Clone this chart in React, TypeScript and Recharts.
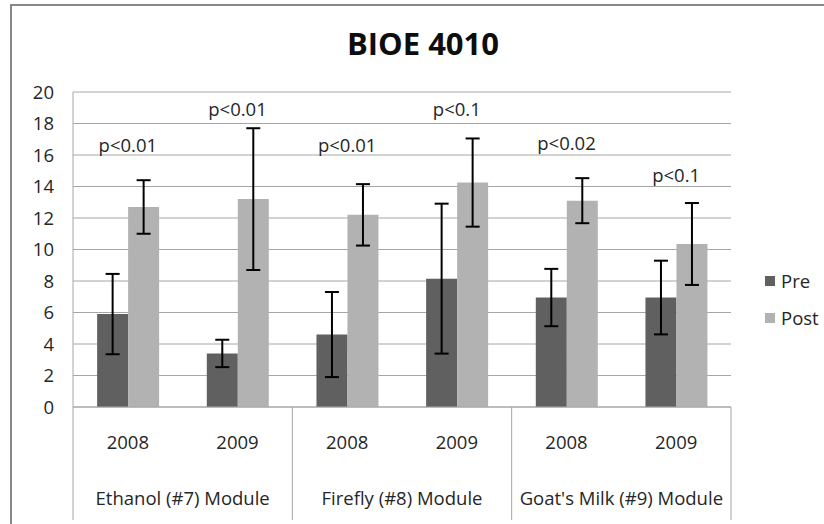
import React from 'react';
import { ComposedChart, Bar, Line, XAxis, YAxis, CartesianGrid, ErrorBar, LabelList, Legend } from 'recharts';

const years = ['2008', '2009', '2008', '2009', '2008', '2009'];
const modules = [
  'Ethanol (#7) Module',
  'Ethanol (#7) Module',
  'Firefly (#8) Module',
  'Firefly (#8) Module',
  "Goat's Milk (#9) Module",
  "Goat's Milk (#9) Module",
];
const preValues = [5.9, 3.4, 4.6, 8.15, 6.95, 6.95];
const preErrors = [2.55, 0.87, 2.7, 4.76, 1.82, 2.34];
const postValues = [12.7, 13.2, 12.2, 14.25, 13.1, 10.35];
const postErrors = [1.7, 4.5, 1.95, 2.8, 1.43, 2.6];
const pLabels = ['p<0.01', 'p<0.01', 'p<0.01', 'p<0.1', 'p<0.02', 'p<0.1'];
const pLabelLevels = [16.6, 18.9, 16.6, 18.9, 16.75, 14.7];
const yTicks = [0, 2, 4, 6, 8, 10, 12, 14, 16, 18, 20];

const PRE_COLOR = '#606060';
const POST_COLOR = '#b2b2b2';
const TEXT_COLOR = '#262626';
const LINE_COLOR = '#a6a6a6';
const FONT = '"Open Sans", Lato, sans-serif';
const FS = 18.5;

const data = years.map((year, i) => ({
  year,
  module: modules[i],
  pre: preValues[i],
  preErr: preErrors[i],
  post: postValues[i],
  postErr: postErrors[i],
  pLevel: pLabelLevels[i],
  pText: pLabels[i],
}));

const CategoryTick = (props: any) => {
  const { x, y, index, payload } = props;
  const half = payload && typeof payload.offset === 'number' && payload.offset > 0 ? payload.offset : 658 / 12;
  const isGroupStart = index % 2 === 0;
  const isLast = index === years.length - 1;
  return (
    <g>
      <text x={x} y={y + 34} textAnchor="middle" dominantBaseline="central" fill={TEXT_COLOR} fontSize={FS} fontFamily={FONT}>
        {years[index]}
      </text>
      {isGroupStart && (
        <>
          <line x1={x - half} x2={x - half} y1={y} y2={y + 113} stroke={LINE_COLOR} strokeWidth={1} />
          <text x={x + half} y={y + 90} textAnchor="middle" dominantBaseline="central" fill={TEXT_COLOR} fontSize={FS} fontFamily={FONT}>
            {modules[index]}
          </text>
        </>
      )}
      {isLast && <line x1={x + half} x2={x + half} y1={y} y2={y + 113} stroke={LINE_COLOR} strokeWidth={1} />}
    </g>
  );
};

const series = [
  { name: 'Pre', color: PRE_COLOR },
  { name: 'Post', color: POST_COLOR },
];

const LegendContent = () => (
  <div style={{ fontFamily: FONT, fontSize: FS, color: TEXT_COLOR }}>
    {series.map((s) => (
      <div key={s.name} style={{ display: 'flex', alignItems: 'center', height: 37 }}>
        <span style={{ display: 'inline-block', width: 10, height: 10, background: s.color, marginRight: 6 }} />
        <span>{s.name}</span>
      </div>
    ))}
  </div>
);

export default function App() {
  return (
    <div style={{ position: 'absolute', left: 0, top: 0, width: 824, height: 524, overflow: 'hidden', background: '#fff' }}>
      <div
        style={{
          position: 'absolute',
          left: 10,
          top: 4,
          width: 900,
          height: 700,
          border: '2px solid #878787',
          boxSizing: 'border-box',
        }}
      />
      <div
        style={{
          position: 'absolute',
          left: 0,
          width: 846,
          top: 25,
          textAlign: 'center',
          fontFamily: FONT,
          fontWeight: 700,
          fontSize: 31,
          lineHeight: '36px',
          color: '#0d0d0d',
        }}
      >
        BIOE 4010
      </div>
      <div style={{ position: 'absolute', left: 0, top: 0 }}>
        <ComposedChart
          width={824}
          height={524}
          data={data}
          margin={{ top: 92, right: 93, bottom: 0, left: 0 }}
          barCategoryGap="22%"
          barGap={0}
        >
          <CartesianGrid horizontal vertical={false} stroke={LINE_COLOR} strokeWidth={1} />
          <XAxis
            dataKey="year"
            height={117}
            tickLine={false}
            tickSize={0}
            tickMargin={0}
            axisLine={{ stroke: LINE_COLOR }}
            interval={0}
            tick={<CategoryTick />}
          />
          <YAxis
            width={73}
            domain={[0, 20]}
            ticks={yTicks}
            interval={0}
            tickLine={false}
            tickSize={0}
            tickMargin={19}
            axisLine={{ stroke: LINE_COLOR }}
            tick={{ fill: TEXT_COLOR, fontSize: FS, fontFamily: FONT }}
          />
          <Bar dataKey="pre" name="Pre" fill={PRE_COLOR} isAnimationActive={false}>
            <ErrorBar dataKey="preErr" width={7} stroke="#000" strokeWidth={2} />
          </Bar>
          <Bar dataKey="post" name="Post" fill={POST_COLOR} isAnimationActive={false}>
            <ErrorBar dataKey="postErr" width={7} stroke="#000" strokeWidth={2} />
          </Bar>
          <Line
            dataKey="pLevel"
            stroke="none"
            dot={false}
            activeDot={false}
            legendType="none"
            isAnimationActive={false}
          >
            <LabelList dataKey="pText" position="center" fill={TEXT_COLOR} fontSize={FS} fontFamily={FONT} />
          </Line>
          <Legend
            layout="vertical"
            align="center"
            verticalAlign="middle"
            wrapperStyle={{ left: 765, top: 262, width: 70 }}
            content={<LegendContent />}
          />
        </ComposedChart>
      </div>
    </div>
  );
}
